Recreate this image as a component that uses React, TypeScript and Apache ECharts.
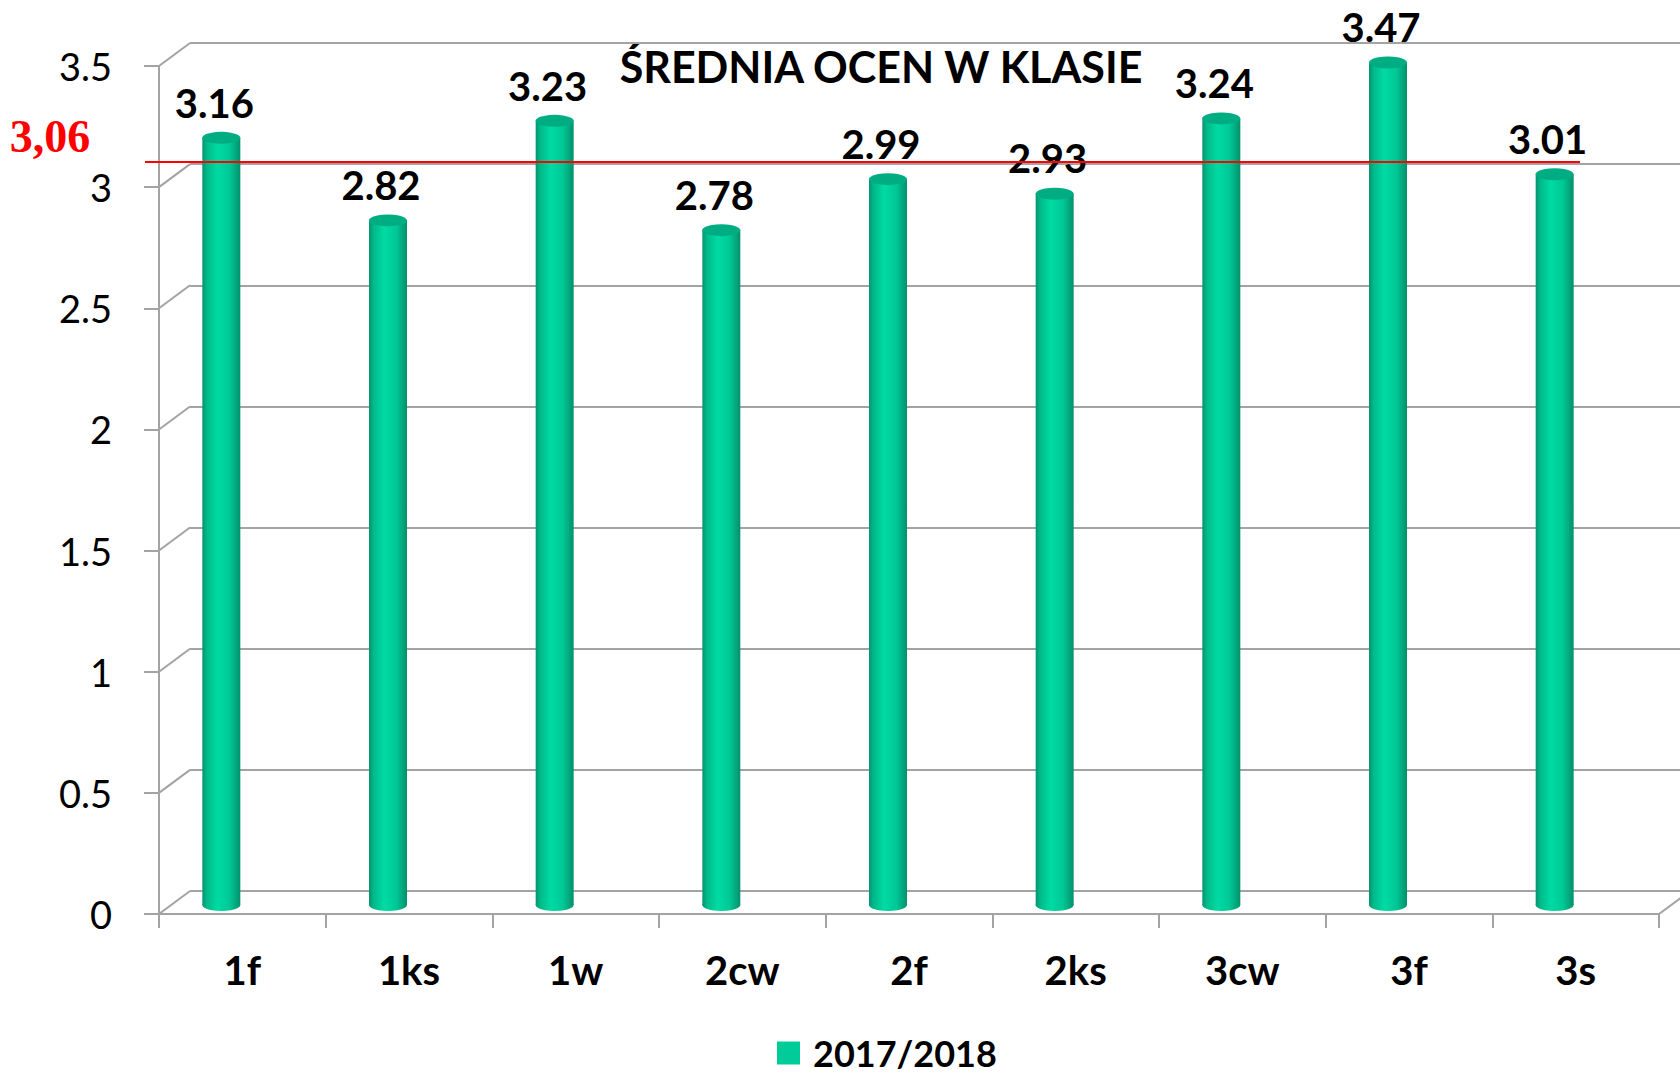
import React, { useEffect, useRef } from "react";
import * as echarts from "echarts";

const categories = ["1f", "1ks", "1w", "2cw", "2f", "2ks", "3cw", "3f", "3s"];
const values2017 = [3.16, 2.82, 3.23, 2.78, 2.99, 2.93, 3.24, 3.47, 3.01];
const seriesName = "2017/2018";
const titleText = "ŚREDNIA OCEN W KLASIE";
const averageValue = 3.06;
const averageLabel = "3,06";
const yMin = 0;
const yMax = 3.5;
const yInterval = 0.5;
const yTickValues = [0, 0.5, 1, 1.5, 2, 2.5, 3, 3.5];

const FRONT = { left: 159, top: 66, width: 1500, height: 848 };
const BACK = { left: 190, top: 43, width: 1540, height: 848 };
const BARS = { left: 138, top: 55, width: 1500, height: 850 };

const GRAY = "#a3a3a3";
const FONT = "Lato";

export default function App() {
  const ref = useRef<HTMLDivElement>(null);
  useEffect(() => {
    if (!ref.current) return;
    const chart = echarts.init(ref.current, null, { renderer: "svg" });
    const barGradient = new echarts.graphic.LinearGradient(0, 0, 1, 0, [
      { offset: 0, color: "#07936e" },
      { offset: 0.12, color: "#00b98a" },
      { offset: 0.4, color: "#00dba3" },
      { offset: 0.72, color: "#00c896" },
      { offset: 1, color: "#05906b" },
    ]);
    const yAxisBase = { type: "value", min: yMin, max: yMax, interval: yInterval };
    const option: any = {
      animation: false,
      backgroundColor: "#ffffff",
      grid: [
        { ...BACK, containLabel: false },
        { ...FRONT, containLabel: false },
        { ...BARS, containLabel: false },
      ],
      xAxis: [
        { type: "category", gridIndex: 0, data: categories, show: false },
        {
          type: "category",
          gridIndex: 1,
          data: categories,
          axisLine: { show: true, lineStyle: { color: GRAY, width: 2 } },
          axisTick: { show: true, length: 14, lineStyle: { color: GRAY, width: 2 } },
          axisLabel: {
            margin: 36,
            color: "#000",
            fontFamily: FONT,
            fontWeight: "bold",
            fontSize: 40,
          },
          splitLine: { show: false },
        },
        { type: "category", gridIndex: 2, data: categories, show: false },
      ],
      yAxis: [
        {
          ...yAxisBase,
          gridIndex: 0,
          axisLine: { show: false },
          axisTick: { show: false },
          axisLabel: { show: false },
          splitLine: { show: true, lineStyle: { color: GRAY, width: 2 } },
        },
        {
          ...yAxisBase,
          gridIndex: 1,
          axisLine: { show: true, lineStyle: { color: GRAY, width: 2 } },
          axisTick: { show: true, length: 15, lineStyle: { color: GRAY, width: 2 } },
          axisLabel: {
            margin: 47,
            color: "#000",
            fontFamily: FONT,
            fontSize: 38,
          },
          splitLine: { show: false },
        },
        { ...yAxisBase, gridIndex: 2, show: false, splitLine: { show: false } },
      ],
      legend: {
        left: 777,
        top: 1033,
        padding: 0,
        itemWidth: 23,
        itemHeight: 23,
        icon: "rect",
        data: [{ name: seriesName, itemStyle: { color: "#00cc99" } }],
        textStyle: {
          color: "#000",
          fontFamily: FONT,
          fontWeight: "bold",
          fontSize: 36,
          lineHeight: 40,
          padding: [0, 0, 0, 8],
        },
      },
      series: [
        {
          name: seriesName,
          type: "bar",
          xAxisIndex: 2,
          yAxisIndex: 2,
          barWidth: 38,
          data: values2017,
          itemStyle: { color: barGradient },
          z: 3,
          label: {
            show: true,
            position: "top",
            distance: 15,
            offset: [-7, 0],
            color: "#000",
            fontFamily: FONT,
            fontWeight: "bold",
            fontSize: 40,
            formatter: (p: any) => p.value.toFixed(2),
          },
          markLine: {
            silent: true,
            symbol: ["none", "none"],
            label: { show: false },
            lineStyle: { color: "#ff0000", width: 2, type: "solid" },
            z: 10,
            data: [
              [
                { coord: [0, averageValue], x: 145 },
                { coord: [8, averageValue], x: 1580 },
              ],
            ],
          },
        },
        {
          type: "pictorialBar",
          xAxisIndex: 2,
          yAxisIndex: 2,
          symbol: "circle",
          symbolSize: [38, 12],
          symbolPosition: "end",
          symbolOffset: [0, "-50%"],
          data: values2017,
          itemStyle: { color: "#00ad82", borderColor: "#00c996", borderWidth: 1 },
          z: 4,
          silent: true,
        },
        {
          type: "pictorialBar",
          xAxisIndex: 2,
          yAxisIndex: 2,
          symbol: "circle",
          symbolSize: [38, 12],
          symbolPosition: "start",
          symbolOffset: [0, "50%"],
          data: values2017,
          itemStyle: { color: barGradient },
          z: 2,
          silent: true,
        },
      ],
      graphic: [
        {
          type: "text",
          x: 881,
          y: 66,
          style: {
            text: titleText,
            fill: "#000",
            font: `bold 43px ${FONT}`,
            textAlign: "center",
            textVerticalAlign: "middle",
          },
        },
        {
          type: "text",
          x: 50,
          y: 136,
          style: {
            text: averageLabel,
            fill: "#ff0000",
            font: "bold 46px 'Liberation Serif'",
            textAlign: "center",
            textVerticalAlign: "middle",
          },
        },
      ],
    };
    chart.setOption(option);

    // 3D side-wall connectors from front axis ticks to back wall gridlines
    const connectors: any[] = [];
    yTickValues.forEach((v) => {
      const yf = chart.convertToPixel({ yAxisIndex: 1 }, v) as number;
      const yb = chart.convertToPixel({ yAxisIndex: 0 }, v) as number;
      connectors.push({
        type: "line",
        shape: { x1: FRONT.left, y1: yf, x2: BACK.left, y2: yb },
        style: { stroke: GRAY, lineWidth: 2 },
        z: 1,
      });
    });
    const yf0 = chart.convertToPixel({ yAxisIndex: 1 }, 0) as number;
    const yb0 = chart.convertToPixel({ yAxisIndex: 0 }, 0) as number;
    connectors.push({
      type: "line",
      shape: {
        x1: FRONT.left + FRONT.width,
        y1: yf0,
        x2: FRONT.left + FRONT.width + (BACK.left - FRONT.left),
        y2: yb0,
      },
      style: { stroke: GRAY, lineWidth: 2 },
      z: 1,
    });
    chart.setOption({ graphic: [...option.graphic, ...connectors] });

    return () => chart.dispose();
  }, []);
  return (
    <div
      ref={ref}
      style={{ position: "fixed", left: 0, top: 0, width: 1680, height: 1075 }}
    />
  );
}
